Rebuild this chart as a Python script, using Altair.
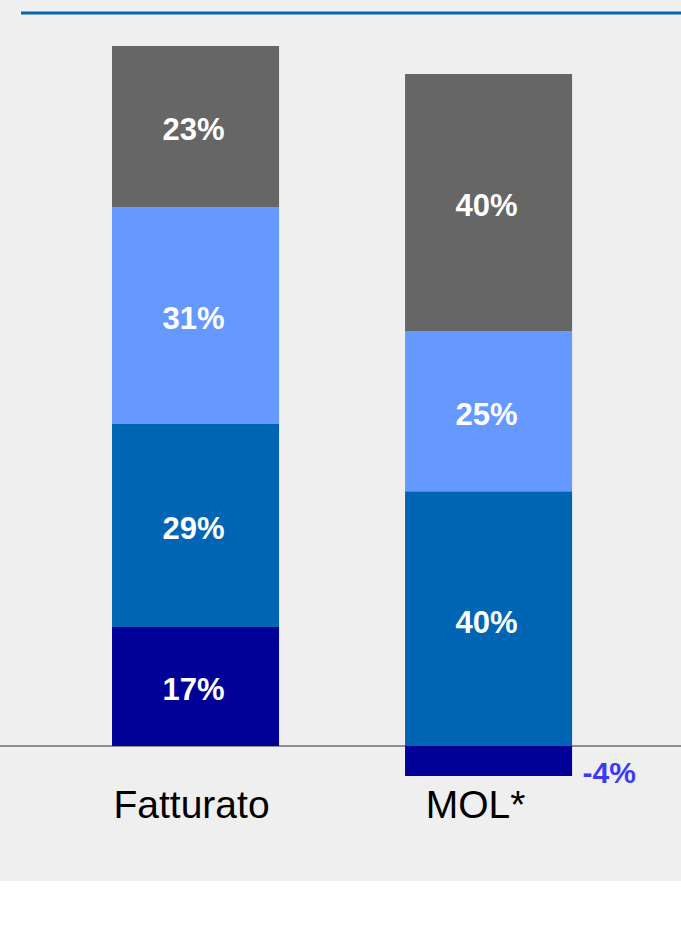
import altair as alt
import pandas as pd

categories = ["Fatturato", "MOL*"]
segments = ["s1", "s2", "s3", "s4"]  # bottom to top
seg_colors = ["#000099", "#0066b3", "#6699ff", "#666666"]
fatturato_vals = [17, 29, 31, 23]
fatturato_lbls = ["17%", "29%", "31%", "23%"]
mol_vals = [-4.3, 36.4, 22.9, 36.7]
mol_lbls = ["-4%", "40%", "25%", "40%"]

rows = []
for cat, vals, lbls in [("Fatturato", fatturato_vals, fatturato_lbls), ("MOL*", mol_vals, mol_lbls)]:
    pos = 0.0
    for seg, v, l in zip(segments, vals, lbls):
        if v < 0:
            y0, y1 = v, 0.0
        else:
            y0, y1 = pos, pos + v
            pos += v
        rows.append({"cat": cat, "seg": seg, "val": v, "y0": y0, "y1": y1,
                     "mid": (y0 + y1) / 2, "lbl": l})
df = pd.DataFrame(rows)
cat_df = pd.DataFrame({"cat": categories})

H = 881
yscale = alt.Scale(domain=[-19.2857, 106.571], nice=False, zero=False)
xscale = alt.Scale(domain=categories, paddingInner=0.43, paddingOuter=0.377, align=0.507)
xenc = alt.X("cat:N", scale=xscale, axis=None, sort=categories)

base = alt.Chart(df)

baseline = alt.Chart(pd.DataFrame({"z": [0]})).mark_rule(color="#8f8f8f", strokeWidth=2).encode(
    y=alt.Y("z:Q", scale=yscale, axis=None), x=alt.value(0), x2=alt.value(681))

topline = alt.Chart(pd.DataFrame({"z": [0]})).mark_rule(color="#0066b3", strokeWidth=3).encode(
    x=alt.value(21), x2=alt.value(681), y=alt.value(13))

bars = base.mark_bar().encode(
    x=xenc,
    y=alt.Y("y0:Q", scale=yscale, axis=None),
    y2="y1:Q",
    color=alt.Color("seg:N", scale=alt.Scale(domain=segments, range=seg_colors), legend=None),
)

inner = base.transform_filter("datum.val > 0").mark_text(
    color="white", font="Liberation Sans", fontWeight="bold", fontSize=31, baseline="middle",
    dx=-2, dy=5
).encode(x=xenc, y=alt.Y("mid:Q", scale=yscale, axis=None), text="lbl:N")

outer = base.transform_filter("datum.val < 0").mark_text(
    color="#3b3bf5", font="Liberation Sans", fontWeight="bold", fontSize=30, baseline="middle",
    align="left", dx=94, dy=13
).encode(x=xenc, y=alt.Y("mid:Q", scale=yscale, axis=None), text="lbl:N")

def catlabel(name, dx):
    return alt.Chart(cat_df).transform_filter(alt.datum.cat == name).mark_text(
        color="black", font="Liberation Sans", fontSize=39, baseline="middle", dx=dx
    ).encode(x=xenc, y=alt.value(806), text="cat:N")

chart = alt.layer(topline, baseline, bars, inner, outer,
                  catlabel("Fatturato", -4), catlabel("MOL*", -13)).properties(
    width=681, height=H, background="white",
    padding={"left": 0, "top": 0, "right": 0, "bottom": 56},
    autosize=alt.AutoSizeParams(type="none"),
).configure_view(fill="#efefef", stroke=None)

chart.save("out.html", embed_options={"renderer": "svg", "actions": False})
